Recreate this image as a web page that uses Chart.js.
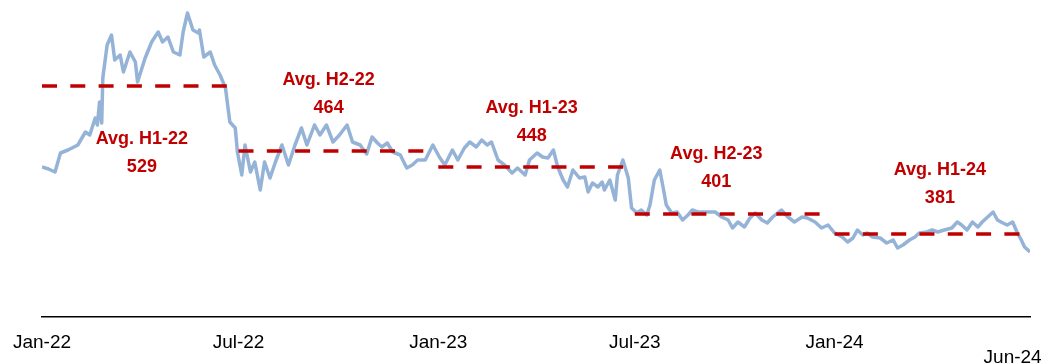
<!DOCTYPE html>
<html>
<head>
<meta charset="utf-8">
<script src="https://cdn.jsdelivr.net/npm/chart.js@4"></script>
<style>
  html, body { margin: 0; padding: 0; background: #fff; }
  #wrap { width: 1048px; height: 364px; }
</style>
</head>
<body>
<div id="wrap"><canvas id="chart"></canvas></div>
<script>
// days since 1 Jan 2022 and the reading on that day
const days = [0, 6, 12, 17, 24, 33, 40, 44, 49, 51, 53, 55, 56, 60, 64, 67, 72, 75, 81, 86,
  88, 95, 101, 107, 111, 116, 121, 127, 130, 134, 139, 144, 145, 149, 155, 159, 164, 169, 173, 178,
  180, 184, 187, 192, 196, 201, 205, 210, 215, 221, 227, 233, 239, 244, 251, 256, 262, 268, 274, 281,
  286, 293, 299, 304, 309, 313, 318, 323, 330, 336, 341, 346, 353, 360, 366, 371, 378, 383, 389, 394,
  400, 405, 410, 414, 420, 426, 433, 438, 445, 449, 456, 461, 466, 471, 475, 480, 484, 489, 495, 500,
  503, 507, 512, 516, 518, 523, 528, 530, 535, 540, 543, 548, 552, 557, 560, 564, 569, 572, 575, 580,
  585, 590, 595, 599, 604, 608, 613, 620, 626, 632, 636, 641, 647, 652, 657, 663, 668, 673, 681, 687,
  693, 700, 705, 712, 718, 724, 730, 737, 742, 747, 751, 756, 760, 765, 772, 778, 784, 788, 793, 799,
  804, 808, 815, 820, 825, 831, 838, 843, 847, 852, 857, 862, 866, 871, 876, 880, 885, 889, 894, 898,
  902, 905, 910];
const level = [448, 446, 443, 462, 465, 470, 483, 480, 497, 490, 513, 492, 537, 570, 580, 555, 560, 543, 563, 553,
  533, 557, 573, 583, 573, 578, 563, 560, 583, 602, 585, 582, 585, 558, 563, 550, 540, 527, 493, 487,
  463, 440, 470, 443, 453, 425, 453, 437, 453, 470, 450, 470, 487, 470, 490, 480, 490, 473, 480, 490,
  473, 470, 461, 478, 472, 468, 472, 463, 460, 447, 450, 455, 455, 470, 458, 450, 465, 455, 467, 473,
  468, 475, 470, 473, 455, 450, 442, 447, 440, 455, 462, 458, 457, 465, 448, 435, 428, 445, 437, 438,
  423, 432, 428, 433, 425, 435, 415, 440, 455, 437, 407, 402, 405, 400, 410, 435, 445, 428, 410, 402,
  403, 395, 400, 405, 403, 403, 403, 403, 398, 395, 387, 393, 388, 397, 402, 395, 392, 398, 405, 398,
  393, 398, 397, 393, 387, 390, 382, 378, 373, 377, 385, 380, 382, 378, 377, 372, 375, 367, 370, 375,
  378, 382, 383, 385, 383, 385, 387, 393, 390, 385, 393, 388, 393, 398, 403, 395, 392, 390, 393, 383,
  375, 368, 363];

// half-year averages, first and last day of each half
const halves = ['H1-22', 'H2-22', 'H1-23', 'H2-23', 'H1-24'];
const halfStart = [0, 181, 365, 546, 730];
const halfEnd = [180, 363, 545, 727, 910];
const halfAvg = [529, 464, 448, 401, 381];

// x-axis ticks
const tickDays = [0, 181, 365, 546, 730, 894];
const tickLabels = ['Jan-22', 'Jul-22', 'Jan-23', 'Jul-23', 'Jan-24', 'Jun-24'];

// where the average captions sit (day, level of the number line)
const captionAt = [[92, 448], [264, 507], [451, 479], [621, 433], [827, 417]];

const RED = '#C00000';
const BLUE = '#95B3D7';

const avgSets = halves.map((h, i) => ({
  label: 'Avg. ' + h,
  data: [{ x: halfStart[i], y: halfAvg[i] }, { x: halfEnd[i], y: halfAvg[i] }],
  borderColor: RED,
  borderWidth: 3.5,
  borderDash: [15, 13.3],
  pointRadius: 0,
  order: 0
}));

const captions = {
  id: 'captions',
  afterDatasetsDraw(chart) {
    const { ctx, scales: { x, y } } = chart;
    ctx.save();
    ctx.fillStyle = RED;
    ctx.font = 'bold 18px "Liberation Sans", Arial, sans-serif';
    ctx.textAlign = 'center';
    ctx.textBaseline = 'middle';
    halves.forEach((h, i) => {
      const px = x.getPixelForValue(captionAt[i][0]);
      const py = y.getPixelForValue(captionAt[i][1]);
      ctx.fillText('Avg. ' + h, px, py - 28);
      ctx.fillText(String(halfAvg[i]), px, py);
    });
    ctx.restore();
  }
};

new Chart(document.getElementById('chart'), {
  type: 'line',
  data: {
    datasets: [
      ...avgSets,
      {
        label: 'Level',
        data: days.map((d, i) => ({ x: d, y: level[i] })),
        borderColor: BLUE,
        borderWidth: 3.5,
        pointRadius: 0,
        tension: 0,
        borderJoinStyle: 'round',
        order: 1
      }
    ]
  },
  options: {
    responsive: true,
    maintainAspectRatio: false,
    animation: false,
    layout: { padding: { left: 42, right: 18, top: 7, bottom: 0 } },
    plugins: { legend: { display: false }, tooltip: { enabled: false } },
    scales: {
      x: {
        type: 'linear',
        min: 0,
        max: 910,
        afterBuildTicks: (s) => { s.ticks = tickDays.map(v => ({ value: v })); },
        afterFit: (s) => { s.height = 47; s.paddingLeft = 0; s.paddingRight = 0; },
        grid: { display: false },
        border: { display: true, color: '#000', width: 1.5 },
        ticks: {
          autoSkip: false,
          maxRotation: 0,
          padding: 10,
          color: '#000',
          font: { family: '"Liberation Sans", Arial, sans-serif', size: 19, lineHeight: 0.8 },
          callback: (v) => {
            const i = tickDays.indexOf(v);
            if (i < 0) return '';
            return i === tickDays.length - 1 ? ['', tickLabels[i]] : tickLabels[i];
          }
        }
      },
      y: {
        display: false,
        min: 298,
        max: 608
      }
    }
  },
  plugins: [captions]
});
</script>
</body>
</html>
